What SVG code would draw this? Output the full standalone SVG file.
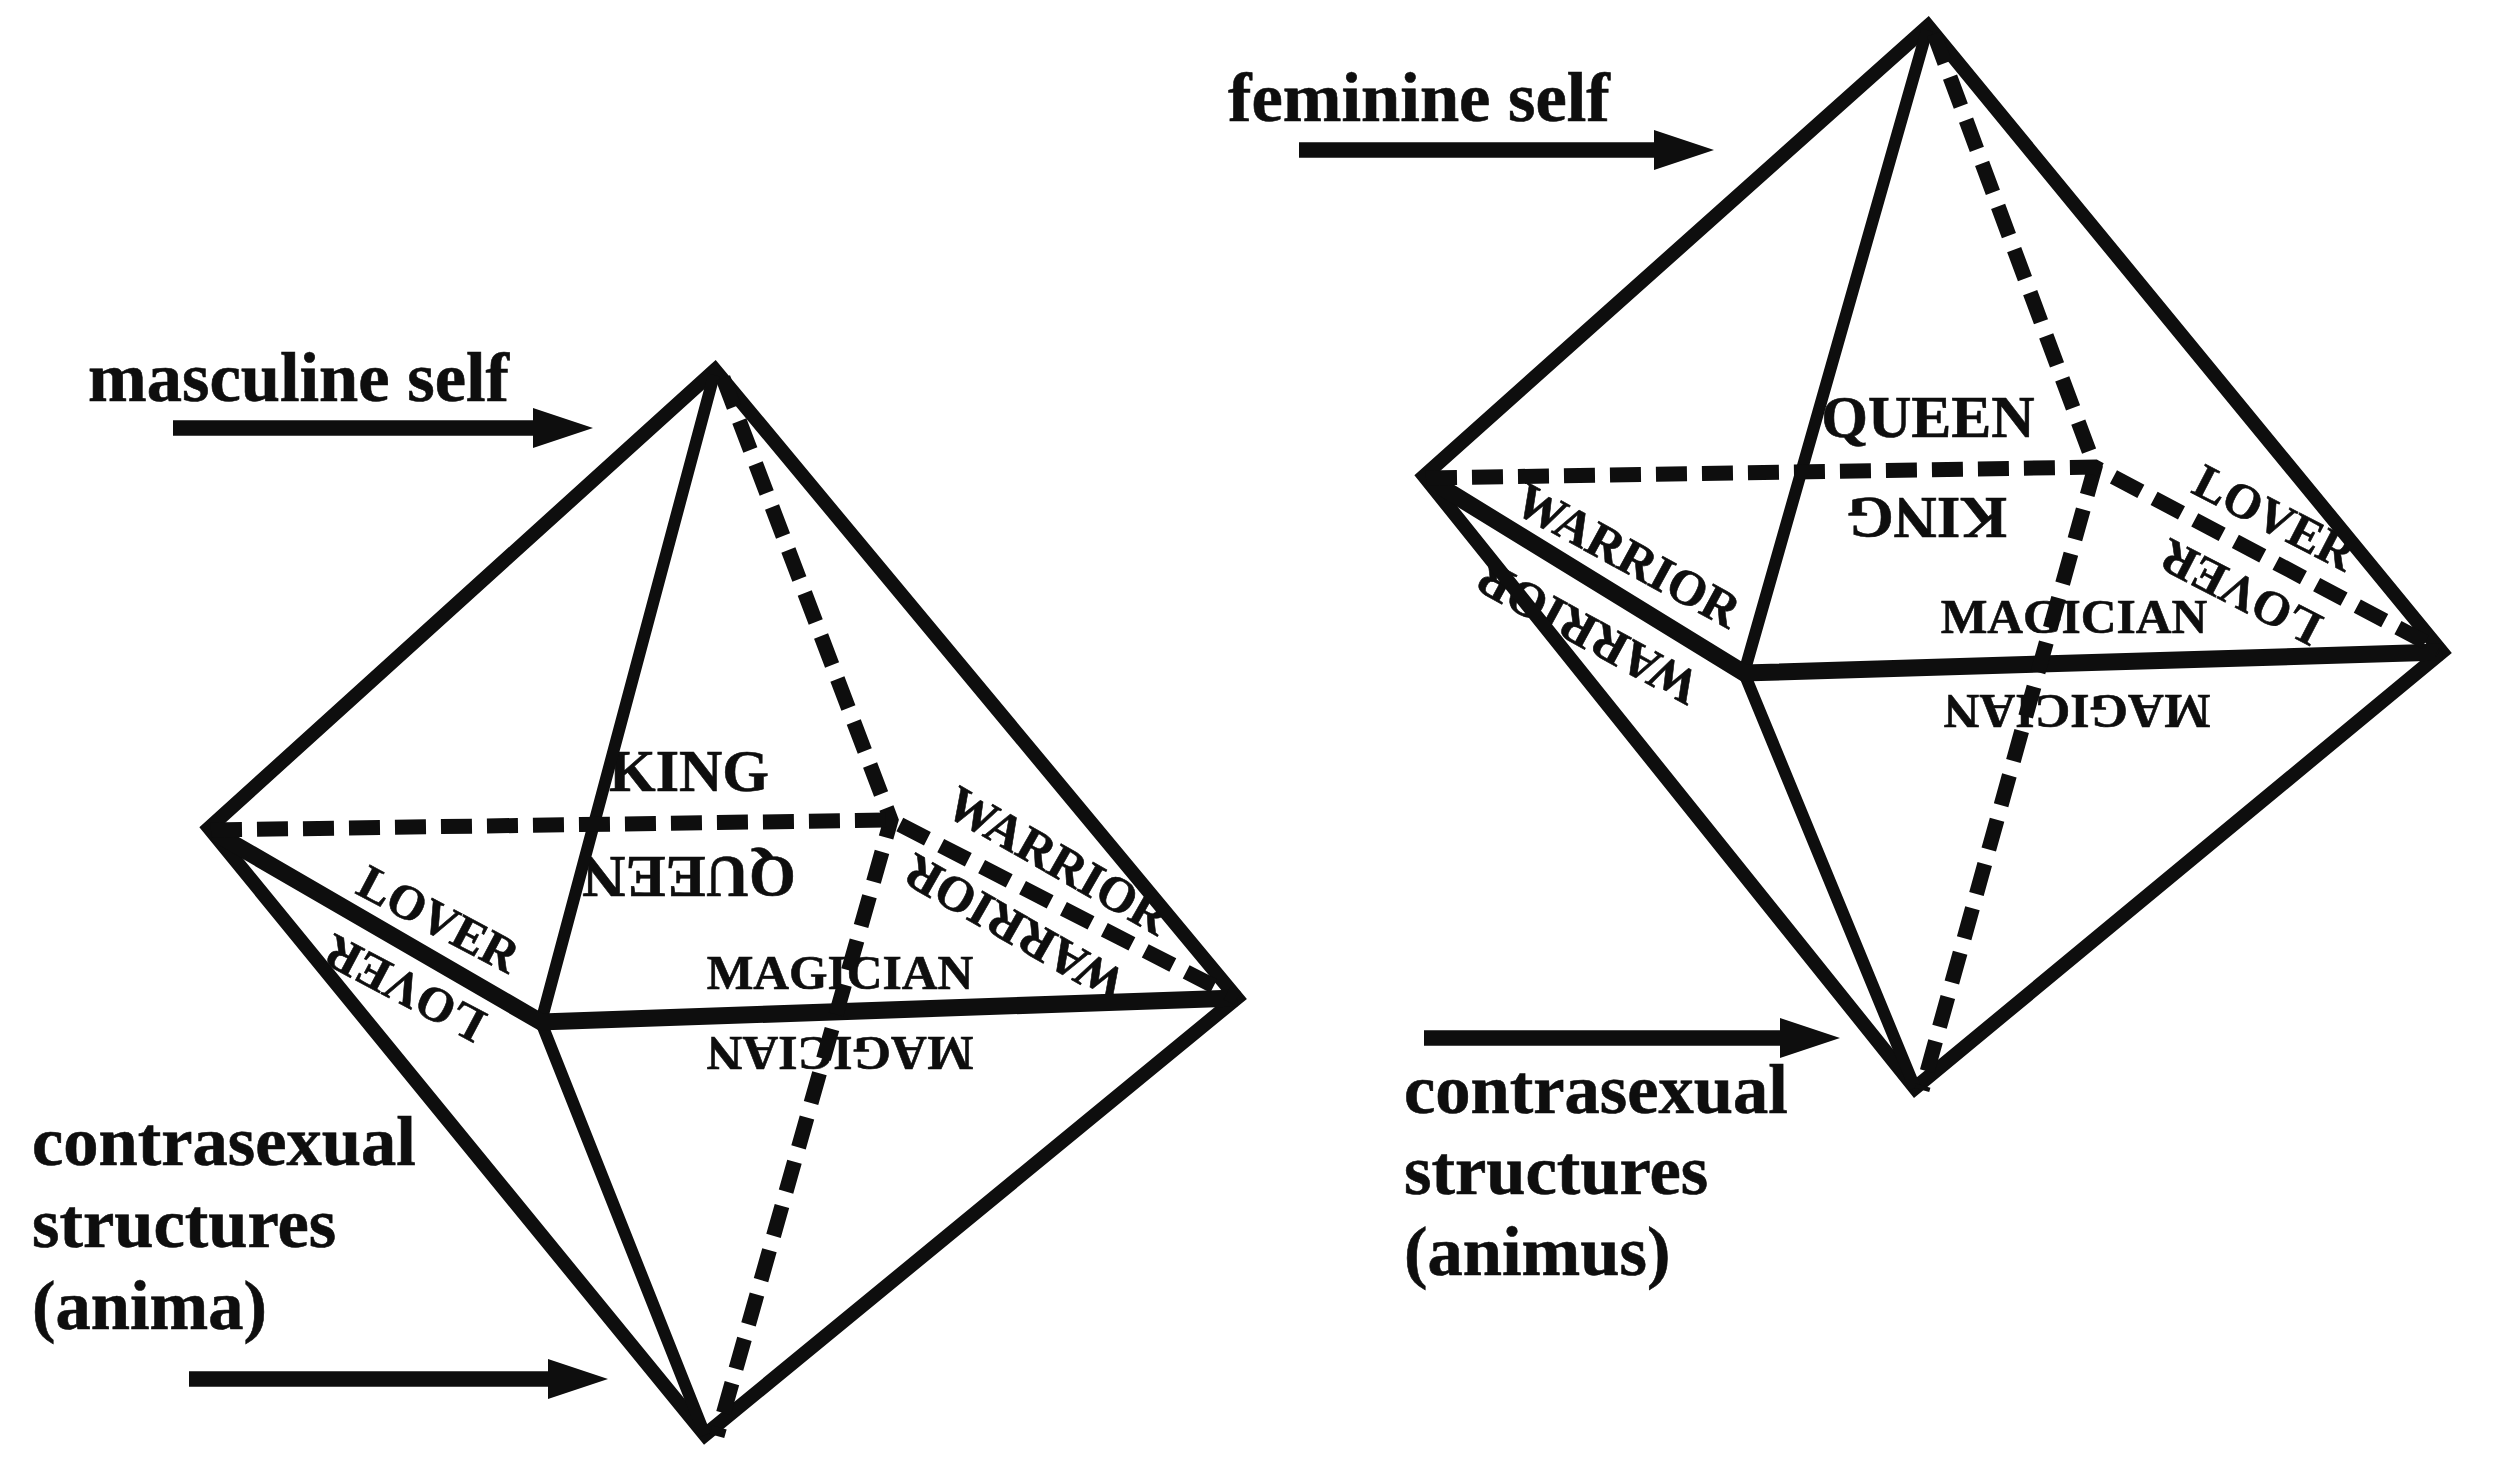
<svg xmlns="http://www.w3.org/2000/svg" width="2500" height="1467" viewBox="0 0 2500 1467">
<style>
text{font-family:"Liberation Serif","Times New Roman",serif;font-weight:700;fill:#0e0e0e;stroke:#0e0e0e;stroke-width:.6}
.lab{font-size:70.5px}
.big{font-size:60px;text-anchor:middle}
.mag{font-size:49.5px;text-anchor:middle}
.dia{font-size:49px;text-anchor:middle}
.war{font-size:50px;text-anchor:middle}
.outer{fill:none;stroke:#0e0e0e;stroke-width:14;stroke-linejoin:miter}
.thin{stroke:#0e0e0e;stroke-width:12;fill:none}
.thick{stroke:#0e0e0e;stroke-width:17;fill:none}
.dash{stroke:#0e0e0e;stroke-width:15;stroke-dasharray:31 15;fill:none}
.arrow{stroke:#0e0e0e;stroke-width:15.5;fill:none;marker-end:url(#head)}
</style>
<defs>
<marker id="head" markerUnits="userSpaceOnUse" markerWidth="60" markerHeight="40" refX="0" refY="20" orient="auto"><path d="M0 0L60 20L0 40Z" fill="#0e0e0e"/></marker>
</defs>
<rect width="2500" height="1467" fill="#fff"/>
<g id="label-masculine-self"><text class="lab" x="88" y="401">masculine self</text></g>
<g id="label-anima"><text class="lab" x="32" y="1165">contrasexual</text><text class="lab" x="32" y="1247">structures</text><text class="lab" x="32" y="1329">(anima)</text></g>
<g id="label-feminine-self"><text class="lab" x="1228" y="121">feminine self</text></g>
<g id="label-animus"><text class="lab" x="1404" y="1113">contrasexual</text><text class="lab" x="1404" y="1194">structures</text><text class="lab" x="1404" y="1275">(animus)</text></g>
<g id="left-faces">
<text class="big" x="689" y="791">KING</text>
<text class="big" transform="translate(689 857) rotate(180)">QUEEN</text>
<text class="mag" x="840" y="989">MAGICIAN</text>
<text class="mag" transform="translate(840 1037) rotate(180)">MAGICIAN</text>
<text class="dia" transform="translate(431 933.5) rotate(27.8)">LOVER</text>
<text class="dia" transform="translate(412 974) rotate(207.8)">LOVER</text>
<text class="war" transform="translate(1050 875) rotate(29.9)">WARRIOR</text>
<text class="war" transform="translate(1023 914) rotate(209.9)">WARRIOR</text>
</g>
<g id="right-faces">
<text class="big" x="1928" y="437">QUEEN</text>
<text class="big" transform="translate(1927 498) rotate(180)">KING</text>
<text class="mag" x="2074" y="633">MAGICIAN</text>
<text class="mag" transform="translate(2077 695) rotate(180)">MAGICIAN</text>
<text class="dia" transform="translate(2267 532) rotate(27.4)">LOVER</text>
<text class="dia" transform="translate(2248 578) rotate(207.4)">LOVER</text>
<text class="war" transform="translate(1620 570) rotate(28.6)">WARRIOR</text>
<text class="war" transform="translate(1595 618) rotate(208.6)">WARRIOR</text>
</g>
<g id="connectors">
<path class="outer" d="M715 370L209 828L705 1435L1237 998Z"/>
<path class="thin" d="M714 375L541 1022L705 1435"/>
<path class="thick" d="M215 833L541 1022L1237 998"/>
<path class="dash" d="M723 378L891 820L717 1436"/>
<path class="dash" d="M211 830L891 820L1237 998"/>
<path class="outer" d="M1928 26L1424 476L1915 1088L2442 652Z"/>
<path class="thin" d="M1927 30L1744 673L1915 1088"/>
<path class="thick" d="M1430 480L1744 673L2442 652"/>
<path class="dash" d="M1934 34L2095 467L1922 1090"/>
<path class="dash" d="M1426 478L2095 467L2440 650"/>
<line class="arrow" x1="173" y1="428" x2="533" y2="428"/>
<line class="arrow" x1="189" y1="1379" x2="548" y2="1379"/>
<line class="arrow" x1="1299" y1="150" x2="1654" y2="150"/>
<line class="arrow" x1="1424" y1="1038" x2="1780" y2="1038"/>
</g>
</svg>
